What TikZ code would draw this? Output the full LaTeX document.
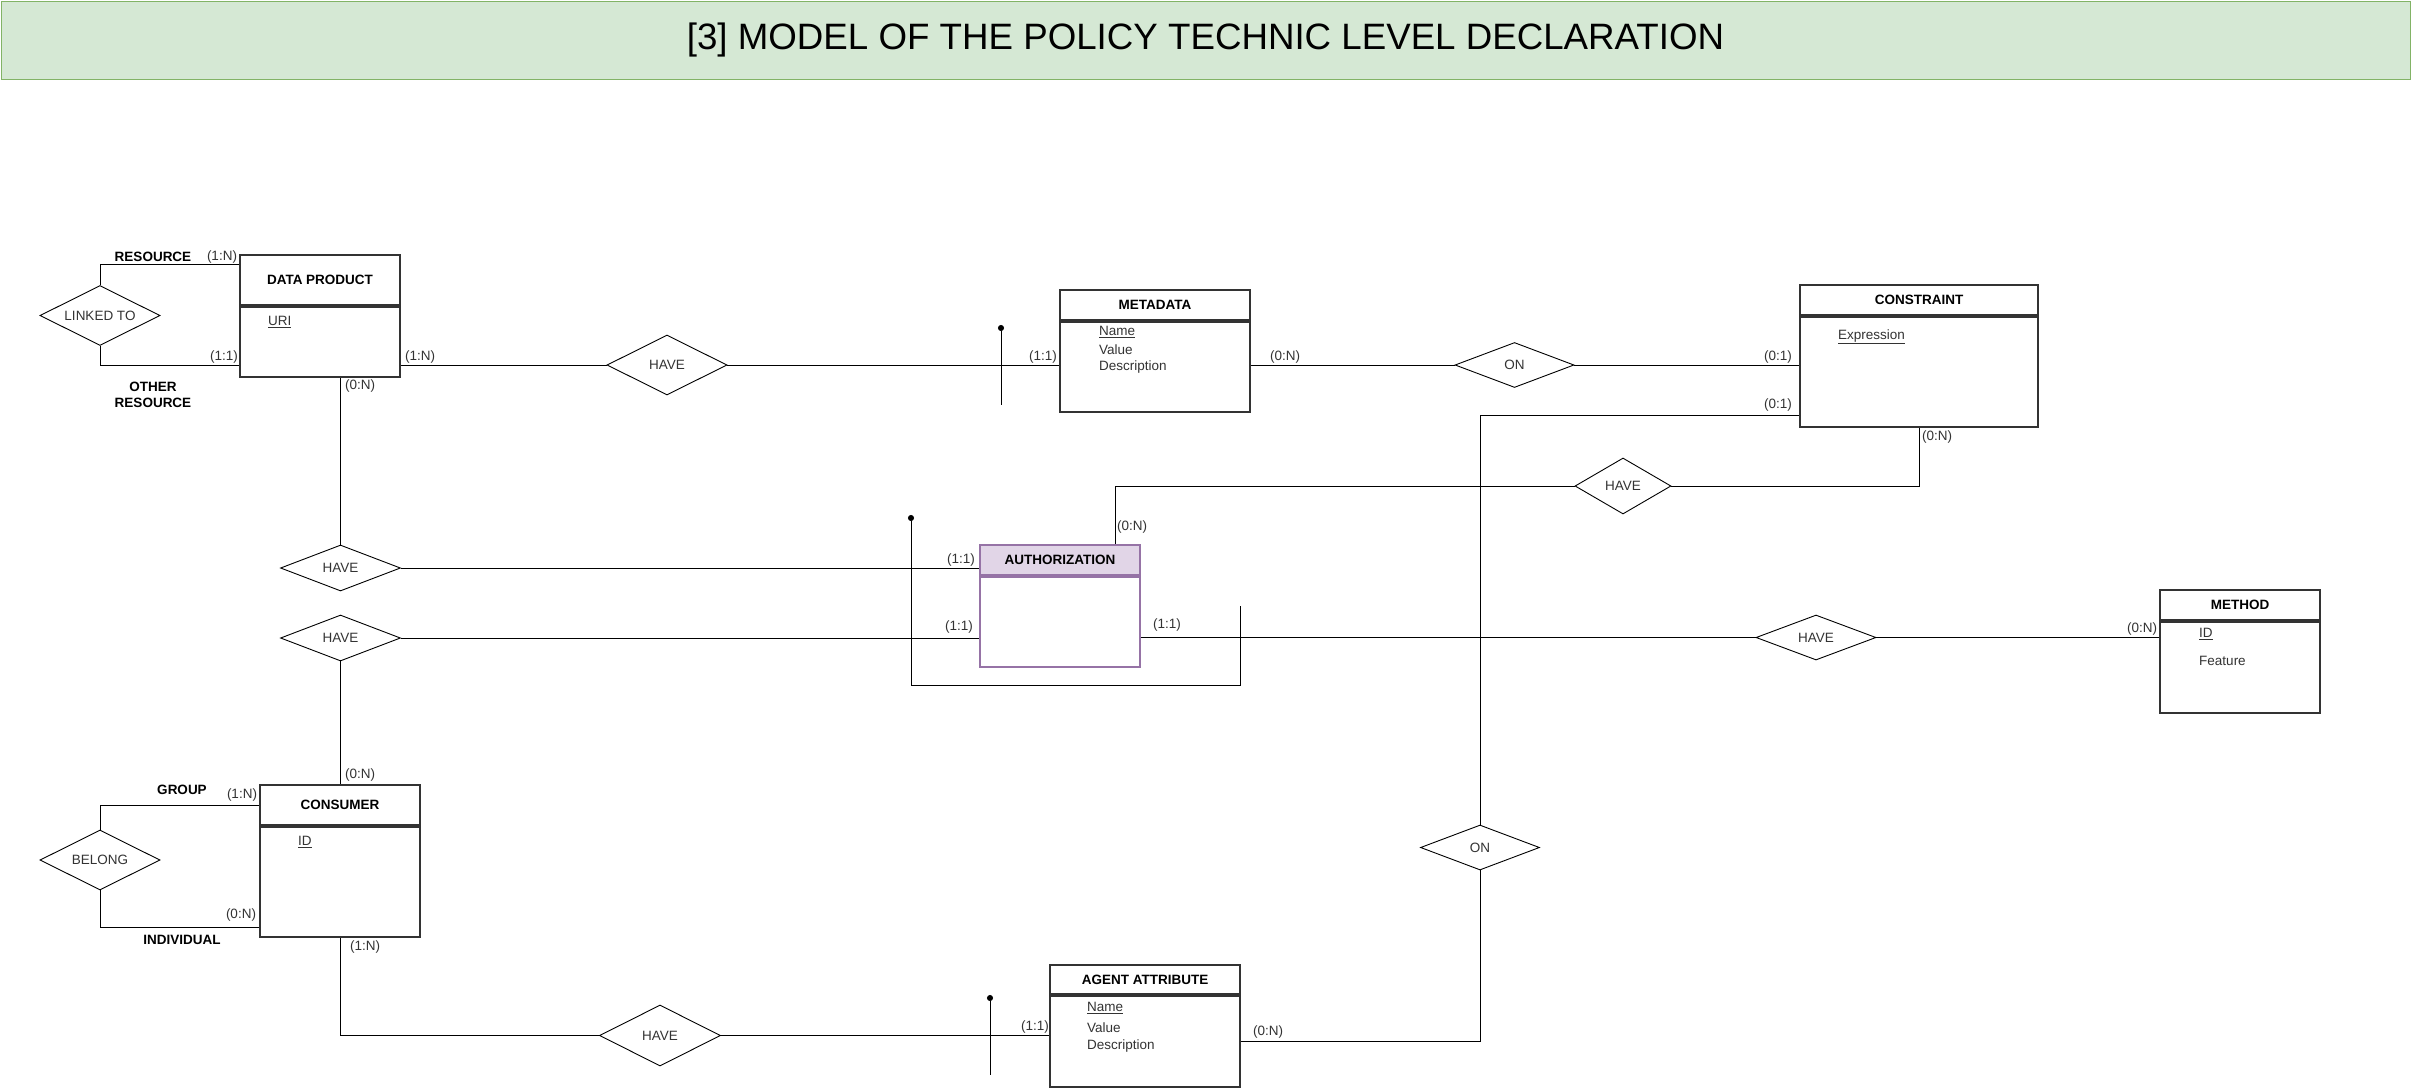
\documentclass[tikz,border=0pt]{standalone}
\usepackage{fontspec}
\setmainfont{Liberation Sans}
\usetikzlibrary{shapes.geometric, arrows.meta, positioning}
\definecolor{titlefill}{RGB}{213,232,212}
\definecolor{titleline}{RGB}{130,179,102}
\definecolor{authfill}{RGB}{225,213,231}
\definecolor{authline}{RGB}{150,115,166}
\definecolor{ink}{RGB}{51,51,51}
\newcommand{\erfont}{\fontsize{13.5}{16}\selectfont}

\tikzset{
  enthead/.style={draw=ink, line width=1.7pt, fill=white, font=\erfont\bfseries, text=black, inner sep=0pt},
  entbody/.style={draw=ink, line width=1.7pt, fill=white, inner sep=0pt},
  rel/.style={diamond, aspect=2, draw=black, line width=0.9pt, fill=white, inner sep=0pt, font=\erfont, text=ink},
  card/.style={font=\erfont, text=ink, inner sep=0pt},
  role/.style={font=\erfont\bfseries, text=black, inner sep=0pt, align=center},
  attr/.style={font=\erfont, text=ink, inner sep=0pt, anchor=west},
  link/.style={draw=black, line width=0.9pt},
  tick/.style={link, {Circle[length=6pt]}-}
}

\begin{document}
\begin{tikzpicture}[x=1pt, y=-1pt]
  \useasboundingbox (0,0) rectangle (2411,1087);

  \node[fill=titlefill, draw=titleline, line width=1pt, minimum width=2409pt, minimum height=78pt,
        inner sep=0pt, font=\fontsize{36.7}{44}\selectfont] (title) at (1205.5,40)
    {[3] MODEL OF THE POLICY TECHNIC LEVEL DECLARATION};

  % entities
  \node[enthead, minimum width=160pt, minimum height=50pt] (dph) at (320,280) {DATA PRODUCT};
  \node[entbody, minimum width=160pt, minimum height=70pt, below=0pt of dph] (dpb) {};
  \node[attr] (dpuri) at (268,322) {\underline{URI}};

  \node[enthead, minimum width=190pt, minimum height=30pt] (mdh) at (1155,305) {METADATA};
  \node[entbody, minimum width=190pt, minimum height=90pt, below=0pt of mdh] (mdb) {};
  \node[attr] (mdname) at (1099,332) {\underline{Name}};
  \node[attr] (mdvalue) at (1099,350) {Value};
  \node[attr] (mddesc) at (1099,367) {Description};

  \node[enthead, minimum width=238pt, minimum height=30pt] (csh) at (1919,300) {CONSTRAINT};
  \node[entbody, minimum width=238pt, minimum height=110pt, below=0pt of csh] (csb) {};
  \node[attr] (csexpr) at (1838,337) {\underline{Expression}};

  \node[enthead, draw=authline, fill=authfill, minimum width=160pt, minimum height=30pt] (ah) at (1060,560) {AUTHORIZATION};
  \node[entbody, draw=authline, minimum width=160pt, minimum height=90pt, below=0pt of ah] (ab) {};

  \node[enthead, minimum width=160pt, minimum height=30pt] (mth) at (2240,605) {METHOD};
  \node[entbody, minimum width=160pt, minimum height=91pt, below=0pt of mth] (mtb) {};
  \node[attr] (mtid) at (2199,634) {\underline{ID}};
  \node[attr] (mtfeat) at (2199,661) {Feature};

  \node[enthead, minimum width=160pt, minimum height=40pt] (ch) at (340,805) {CONSUMER};
  \node[entbody, minimum width=160pt, minimum height=110pt, below=0pt of ch] (cb) {};
  \node[attr] (cid) at (298,842) {\underline{ID}};

  \node[enthead, minimum width=190pt, minimum height=29pt] (agh) at (1145,979.5) {AGENT ATTRIBUTE};
  \node[entbody, minimum width=190pt, minimum height=91pt, below=0pt of agh] (agb) {};
  \node[attr] (agname) at (1087,1008) {\underline{Name}};
  \node[attr] (agvalue) at (1087,1028) {Value};
  \node[attr] (agdesc) at (1087,1046) {Description};

  % relations
  \node[rel, minimum width=120pt, minimum height=60pt] (linkedto) at (100,315.5) {LINKED TO};
  \node[rel, minimum width=120pt, minimum height=60pt] (havemeta) at (667,365) {HAVE};
  \node[rel, minimum width=119pt, minimum height=45pt] (onmeta) at (1514.5,365) {ON};
  \node[rel, minimum width=96pt, minimum height=56pt] (haveconstr) at (1623,486) {HAVE};
  \node[rel, minimum width=120pt, minimum height=46pt] (havedp) at (340.5,568) {HAVE};
  \node[rel, minimum width=120pt, minimum height=46pt] (havecons) at (340.5,638) {HAVE};
  \node[rel, minimum width=120pt, minimum height=45pt] (havemethod) at (1816,637.5) {HAVE};
  \node[rel, minimum width=120pt, minimum height=60pt] (belong) at (100,860) {BELONG};
  \node[rel, minimum width=121pt, minimum height=61pt] (haveagent) at (660,1035.5) {HAVE};
  \node[rel, minimum width=119pt, minimum height=45pt] (onagent) at (1480,847.5) {ON};

  % connectors
  \draw[link] (linkedto.north) |- ([yshift=-10.7pt]dph.north west);
  \draw[link] (linkedto.south) |- (dpb.west |- havemeta);
  \draw[link] (dpb.east |- havemeta) -- (havemeta.west);
  \draw[link] (havemeta.east) -- (mdb.west |- havemeta);
  \draw[link] (mdb.east |- onmeta) -- (onmeta.west);
  \draw[link] (onmeta.east) -- (csb.west |- onmeta);
  \draw[link] (havedp.north) -- (havedp.north |- dpb.south);
  \draw[link] (havedp.east) -- (ah.west |- havedp);
  \draw[link] (havecons.east) -- (ab.west |- havecons);
  \draw[link] (havecons.south) -- (havecons.south |- ch.north);
  \draw[link] (belong.north) |- (ch.west);
  \draw[link] (belong.south) |- ([yshift=10pt]cb.south west);
  \draw[link] (havecons.south |- cb.south) |- (haveagent.west);
  \draw[link] (haveagent.east) -- (agb.west |- haveagent);
  \draw[link] (agb.east) -| (onagent.south);
  \draw[link] (onagent.north) |- ([yshift=12.5pt]csb.south west);
  \draw[link] (csb.south) |- (haveconstr.east);
  \draw[link] (haveconstr.west) -| ([xshift=55.6pt]ah.north);
  \draw[link] (ab.east |- havemethod) -- (havemethod.west);
  \draw[link] (havemethod.east) -- (mtb.west |- havemethod);

  % ticks
  \coordinate (mdtick) at (1001,325);
  \coordinate (agtick) at (990,995);
  \coordinate (atick) at (911,515);
  \coordinate (atickend) at (1240.7,605.7);
  \draw[tick] (mdtick) -- ++(0,80);
  \draw[tick] (agtick) -- ++(0,80);
  \draw[tick] (atick) -- ++(0,170) -| (atickend);

  % roles and cardinalities
  \node[role] (rres) at (153,257) {RESOURCE};
  \node[role] (rother) at (153,395) {OTHER\\RESOURCE};
  \node[role] (rgroup) at (182,790) {GROUP};
  \node[role] (rindiv) at (182,940) {INDIVIDUAL};
  \node[card] (c1) at (222,257) {(1:N)};
  \node[card] (c2) at (224,357) {(1:1)};
  \node[card] (c3) at (420,357) {(1:N)};
  \node[card] (c4) at (360,386) {(0:N)};
  \node[card] (c5) at (1043,357) {(1:1)};
  \node[card] (c6) at (1285,357) {(0:N)};
  \node[card] (c7) at (1778,357) {(0:1)};
  \node[card] (c8) at (1778,405) {(0:1)};
  \node[card] (c9) at (1937,437) {(0:N)};
  \node[card] (c10) at (1132,527) {(0:N)};
  \node[card] (c11) at (961,560) {(1:1)};
  \node[card] (c12) at (959,627) {(1:1)};
  \node[card] (c13) at (1167,625) {(1:1)};
  \node[card] (c14) at (2142,629) {(0:N)};
  \node[card] (c15) at (360,775) {(0:N)};
  \node[card] (c16) at (242,795) {(1:N)};
  \node[card] (c17) at (241,915) {(0:N)};
  \node[card] (c18) at (365,947) {(1:N)};
  \node[card] (c19) at (1035,1027) {(1:1)};
  \node[card] (c20) at (1268,1032) {(0:N)};
\end{tikzpicture}
\end{document}
